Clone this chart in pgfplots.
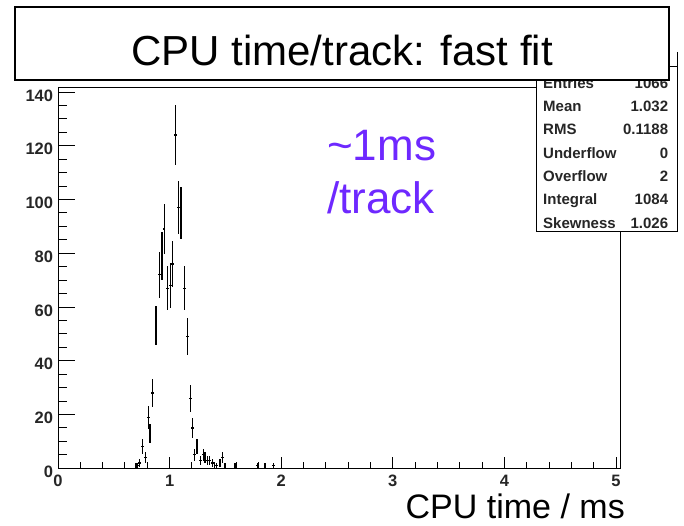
\documentclass[border=0pt]{standalone}
\usepackage{fontspec}
\setmainfont{Liberation Sans}
\usepackage{pgfplots}
\usepackage{pgfplotstable}
\pgfplotsset{compat=1.18}
\definecolor{violetx}{RGB}{110,40,255}
\pgfplotstableread{
x y ex ey
0.699 1 0.012 1
0.714 1 0.012 1
0.729 2 0.012 1.414
0.757 8 0.012 2.828
0.784 4 0.012 2
0.809 19 0.012 4.359
0.824 13 0.012 3.606
0.849 28 0.012 5.292
0.878 53 0.012 7.280
0.908 72 0.012 8.485
0.932 79 0.012 8.888
0.951 89 0.012 9.434
0.983 67 0.012 8.185
1.010 68 0.012 8.246
1.024 76 0.012 8.718
1.051 124 0.012 11.136
1.078 97 0.012 9.849
1.102 95 0.012 9.747
1.132 67 0.012 8.185
1.159 49 0.012 7.0
1.186 26 0.012 5.099
1.203 15 0.012 3.873
1.224 5 0.012 2.236
1.246 8 0.012 2.828
1.279 3 0.012 1.732
1.302 5 0.012 2.236
1.317 4 0.012 2
1.338 3 0.012 1.732
1.356 3 0.012 1.732
1.383 2 0.012 1.414
1.422 1 0.012 1
1.452 2 0.012 1.414
1.476 4 0.012 2
1.496 1 0.012 1
1.586 1 0.012 1
1.790 1 0.012 1
1.855 1 0.012 1
1.930 1 0.012 1
}\datatable
\begin{document}
\begin{tikzpicture}
\useasboundingbox (0,0) rectangle (684pt,525pt);
\begin{axis}[
  at={(58pt,56.7pt)}, anchor=south west,
  width=562.7pt, height=380.3pt, scale only axis,
  xmin=0, xmax=5.042, ymin=0, ymax=141.5,
  xtick={0,1,2,3,4,5}, ytick={0,20,...,140},
  minor x tick num=4, minor y tick num=3,
  xtick pos=bottom, ytick pos=left,
  tick align=inside,
  major tick length=17pt, minor tick length=8.5pt,
  x tick style={/pgfplots/major tick length=11pt,/pgfplots/minor tick length=6pt},
  axis line style={line width=1pt},
  every tick/.style={black, line width=1pt},
  /pgf/number format/assume math mode=true,
  tick label style={font=\fontsize{16.5}{16.5}\selectfont\bfseries, text=black!85},
  xticklabel style={inner sep=0pt, anchor=north, yshift=-6.7pt},
  yticklabel style={inner sep=0pt, anchor=east, xshift=-4.7pt, yshift=-3.5pt},
]
\addplot[draw=none, mark=none,
  error bars/.cd, x dir=both, x explicit, y dir=both, y explicit,
  error mark=none, error bar style={draw=black, line width=1.2pt}]
  table[x=x, y=y, x error=ex, y error=ey] {\datatable};
\end{axis}
% stats box
\draw[line width=1pt, fill=white] (536pt,458.3pt) rectangle (677pt,293.3pt);
\draw[line width=1pt] (677pt,473pt) -- (677pt,458.3pt);
\begin{scope}[every node/.style={inner sep=0pt, font=\fontsize{15}{15}\selectfont\bfseries, text=black!85}]
\node[anchor=base west] at (543pt,436.6pt) {Entries};
\node[anchor=base east] at (668.3pt,436.6pt) {1066};
\node[anchor=base west] at (543pt,413.3pt) {Mean};
\node[anchor=base east] at (668.3pt,413.3pt) {1.032};
\node[anchor=base west] at (543pt,390pt) {RMS};
\node[anchor=base east] at (668.3pt,390pt) {0.1188};
\node[anchor=base west] at (543pt,366.7pt) {Underflow};
\node[anchor=base east] at (668.3pt,366.7pt) {0};
\node[anchor=base west] at (543pt,343.4pt) {Overflow};
\node[anchor=base east] at (668.3pt,343.4pt) {2};
\node[anchor=base west] at (543pt,320pt) {Integral};
\node[anchor=base east] at (668.3pt,320pt) {1084};
\node[anchor=base west] at (543pt,296.7pt) {Skewness};
\node[anchor=base east] at (668.3pt,296.7pt) {1.026};
\end{scope}
% title box
\draw[line width=1.8pt, fill=white] (15pt,518pt) rectangle (669pt,445pt);
\node[anchor=base, inner sep=0pt, font=\fontsize{42}{42}\selectfont] at (342pt,459pt) {CPU time/track: fast fit};
% annotation
\node[anchor=base west, inner sep=0pt, text=violetx, font=\fontsize{44}{44}\selectfont] at (327pt,364pt) {\textasciitilde1ms};
\node[anchor=base west, inner sep=0pt, text=violetx, font=\fontsize{44}{44}\selectfont] at (327pt,311pt) {/track};
% x label
\node[anchor=base east, inner sep=0pt, font=\fontsize{34}{34}\selectfont] at (625pt,7pt) {CPU time / ms};
\end{tikzpicture}
\end{document}
